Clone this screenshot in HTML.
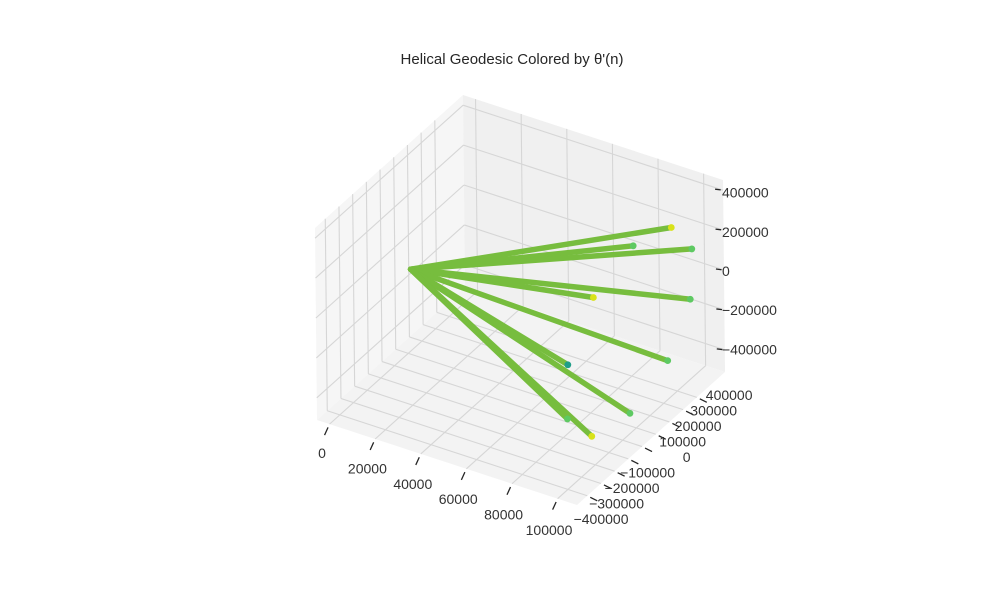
<!DOCTYPE html>
<html><head><meta charset="utf-8"><style>
body{margin:0;background:#fff}
svg{display:block;font-family:"Liberation Sans","DejaVu Sans",sans-serif}
</style></head><body>
<svg id="chart" width="1000" height="600" viewBox="0 0 1000 600">
<text x="512" y="64" text-anchor="middle" font-size="15" fill="#262626">Helical Geodesic Colored by θ'(n)</text>
<g id="panes"></g>
<g id="grid"></g>
<g id="series"></g>
<g id="ticks"></g>
</svg>
<script>
const xTicks=[0,20000,40000,60000,80000,100000];
const yTicks=[-400000,-300000,-200000,-100000,0,100000,200000,300000,400000];
const zTicks=[-400000,-200000,0,200000,400000];
const originPoint=[7500,0,0];
const endX=[100000,100000,100000,100000,100000,100000,100000,100000,100000,100000];
const endY=[368000,91000,515000,-201000,500000,332000,-391000,55000,-223000,-398000];
const endZ=[328000,407000,130000,328000,-113000,-317000,108000,-410000,-354000,-159000];
const endTheta=[0.95,0.55,0.6,0.95,0.6,0.6,0.3,0.62,0.95,0.62];

const X0=-5500,X1=108500,Y0=-475000,Y1=606000,Z0=-511000,Z1=451000;
const A=[317,420],EX=[260,85],EY=[148,-133],EZ=[-2,-192];
function P(x,y,z){const fx=(x-X0)/(X1-X0),fy=(y-Y0)/(Y1-Y0),fz=(z-Z0)/(Z1-Z0);
 return [A[0]+fx*EX[0]+fy*EY[0]+fz*EZ[0],A[1]+fx*EX[1]+fy*EY[1]+fz*EZ[1]];}
const NS='http://www.w3.org/2000/svg';
function mk(tag,attrs,parent){const e=document.createElementNS(NS,tag);for(const k in attrs)e.setAttribute(k,attrs[k]);parent.appendChild(e);return e;}
function poly(pts){return pts.map(p=>p[0].toFixed(1)+','+p[1].toFixed(1)).join(' ');}
const panes=document.getElementById('panes'),grid=document.getElementById('grid'),series=document.getElementById('series'),ticks=document.getElementById('ticks');

let e;
e=mk('polygon',{points:poly([P(X0,Y0,Z0),P(X0,Y1,Z0),P(X0,Y1,Z1),P(X0,Y0,Z1)]),fill:'#f6f6f6'},panes);


e=mk('polygon',{points:poly([P(X0,Y1,Z0),P(X1,Y1,Z0),P(X1,Y1,Z1),P(X0,Y1,Z1)]),fill:'#f0f0f0'},panes);


e=mk('polygon',{points:poly([P(X0,Y0,Z0),P(X1,Y0,Z0),P(X1,Y1,Z0),P(X0,Y1,Z0)]),fill:'#f3f3f3'},panes);



function gl(p,q){const l=mk('line',{x1:p[0],y1:p[1],x2:q[0],y2:q[1],stroke:'#d6d6d6','stroke-width':1.1},grid);
 
 }
xTicks.forEach(v=>{gl(P(v,Y0,Z0),P(v,Y1,Z0));gl(P(v,Y1,Z0),P(v,Y1,Z1));});
yTicks.forEach(v=>{gl(P(X0,v,Z0),P(X1,v,Z0));gl(P(X0,v,Z0),P(X0,v,Z1));});
zTicks.forEach(v=>{gl(P(X0,Y0,v),P(X0,Y1,v));gl(P(X0,Y1,v),P(X1,Y1,v));});

const o=P(...originPoint);
endX.forEach((x,i)=>{const q=P(x,endY[i],endZ[i]);
 const l=mk('line',{x1:o[0],y1:o[1],x2:q[0],y2:q[1],stroke:'#77bd3e','stroke-width':5.5,'stroke-linecap':'round'},series);
 
 });
function col(t){return t>0.85?'#d8e219':(t<0.4?'#1f9e89':'#5ec962');}
endX.forEach((x,i)=>{const q=P(x,endY[i],endZ[i]);
 const c=mk('circle',{cx:q[0],cy:q[1],r:3.4,fill:col(endTheta[i])},series);
 
 });

function txt(s,x,y,anchor){const t=mk('text',{x:x,y:y,'text-anchor':anchor,'font-size':14,fill:'#333'},ticks);t.textContent=s;
 
 }
function tm(p,dx,dy){const l=mk('line',{x1:p[0]+dx*0.3,y1:p[1]+dy*0.3,x2:p[0]+dx,y2:p[1]+dy,stroke:'#262626','stroke-width':1.3},ticks);
 
 }
function fmt(v){return v<0?'\u2212'+(-v):String(v);}
xTicks.forEach(v=>{const p=P(v,Y0,Z0);tm(p,-5,11);txt(fmt(v),322+v*0.00227,458+v*0.00077,'middle');});
yTicks.forEach(v=>{const p=P(X1,v,Z0);tm(p,10,5);txt(fmt(v),690.5+v*0.000155,462-v*0.000155,'end');});
zTicks.forEach(v=>{const p=P(X1,Y1,v);tm(p,-8,-1);txt(fmt(v),722,276-v*0.000196,'start');});
</script>
</body></html>
